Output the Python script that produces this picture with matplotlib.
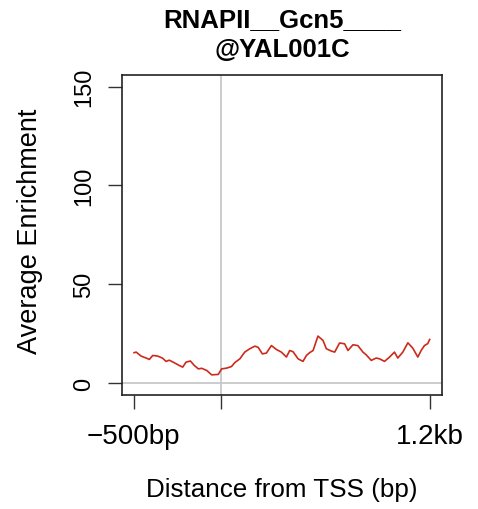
import matplotlib
matplotlib.use("Agg")
import matplotlib.pyplot as plt
import numpy as np

plt.rcParams['font.family'] = ['Liberation Sans', 'DejaVu Sans']

# Average enrichment profile around the TSS (bp relative to TSS)
position_bp = [-497, -485, -457, -428, -409, -390, -362, -333, -314, -295,
               -266, -237, -218, -199, -174, -151, -128, -109, -80, -52,
               -14, 5, 34, 62, 81, 110, 138, 167, 196, 215,
               239, 262, 291, 320, 348, 377, 396, 415, 444, 472,
               492, 510, 530, 558, 587, 606, 635, 654, 682, 711,
               730, 759, 787, 816, 835, 864, 892, 911, 940, 969,
               997, 1016, 1045, 1074, 1102, 1131, 1150, 1169, 1188, 1199]
enrichment = [15.4, 15.7, 13.7, 12.7, 12.0, 14.0, 13.7, 12.6, 11.0, 11.6,
              10.3, 8.9, 8.1, 10.6, 11.2, 8.9, 7.2, 7.5, 6.4, 4.2,
              4.4, 7.2, 7.6, 8.4, 10.4, 12.3, 15.7, 17.4, 18.7, 18.1,
              14.8, 15.2, 19.0, 17.0, 15.7, 13.2, 16.5, 15.9, 12.3, 11.0,
              14.0, 15.4, 16.5, 23.8, 21.6, 17.4, 16.2, 15.7, 20.3, 19.9,
              16.5, 19.4, 19.0, 15.7, 14.3, 11.5, 12.7, 12.3, 11.0, 13.2,
              15.7, 12.7, 15.7, 20.4, 17.7, 13.2, 16.5, 19.0, 20.0, 22.1]

x_ticks = [-500, 0, 1200]
x_ticklabels = ['\u2212500bp', '', '1.2kb']
y_ticks = [0, 50, 100, 150]
y_ticklabels = ['0', '50', '100', '150']

title_text = 'RNAPII__Gcn5____\n@YAL001C'
x_label = 'Distance from TSS (bp)'
y_label = 'Average Enrichment'

W, H = 478, 510
fig = plt.figure(figsize=(W / 100, H / 100), dpi=100)
ax = fig.add_axes([121.7 / W, 1 - 396 / H, (441.7 - 121.7) / W, (396 - 75.7) / H])

# reference lines at the TSS and at zero enrichment
ax.axvline(0, color='#c8c8c8', lw=1.3, zorder=1)
ax.axhline(0, color='#c8c8c8', lw=1.3, zorder=1)
ax.plot(position_bp, enrichment, color='#cc2a1a', lw=1.2, zorder=2)

ax.set_xlim(-568, 1268)
ax.set_ylim(-6, 156)

ax.set_xticks(x_ticks)
ax.set_xticklabels(x_ticklabels, fontsize=20)
ax.set_yticks(y_ticks)
ax.set_yticklabels(y_ticklabels, fontsize=17, rotation=90, va='center')
ax.tick_params(axis='both', length=10, width=1.0, color='#333333', direction='out')
ax.tick_params(axis='x', pad=10)
ax.tick_params(axis='y', pad=9)
for s in ax.spines.values():
    s.set_linewidth(1.2)
    s.set_color('#222222')

fig.text(282 / W, 1 - 35 / H, title_text, ha='center', va='center',
         fontsize=18.5, fontweight='bold', linespacing=1.35)
fig.text(282 / W, 1 - 490 / H, x_label, ha='center', va='center', fontsize=18.7)
fig.text(30 / W, 1 - 231 / H, y_label, ha='center', va='center', fontsize=19.5,
         rotation=90)

fig.savefig('out.png', dpi=100)
